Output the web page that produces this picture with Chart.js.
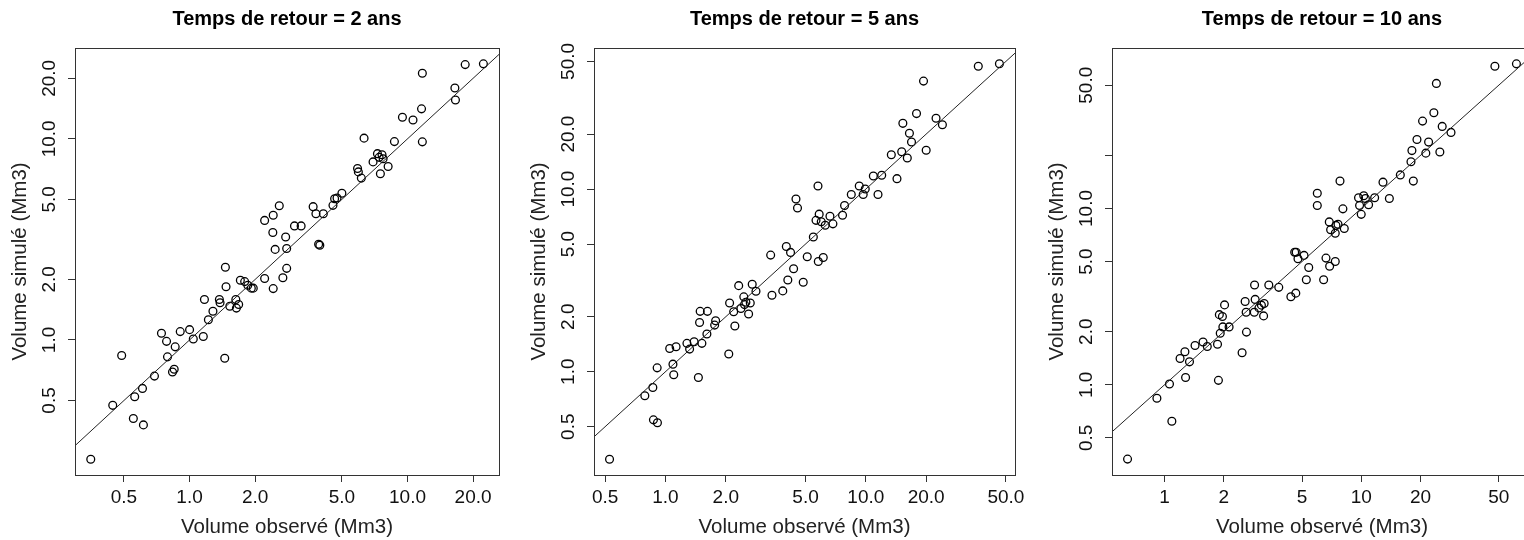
<!DOCTYPE html>
<html>
<head>
<meta charset="utf-8">
<title>Volume simulé vs volume observé</title>
<script src="https://cdn.jsdelivr.net/npm/chart.js@4.4.1/dist/chart.umd.min.js"></script>
<style>
  html, body { margin: 0; padding: 0; background: #fff; overflow: hidden; }
  #wrap { position: relative; width: 1524px; height: 540px; overflow: hidden; }
  #wrap canvas { position: absolute; left: 0; top: 0; }
</style>
</head>
<body>
<div id="wrap">
  <canvas id="c2" width="1540" height="540"></canvas>
  <canvas id="c5" width="1540" height="540"></canvas>
  <canvas id="c10" width="1540" height="540"></canvas>
</div>
<script>
// Données (Mm3)
const obs2 = [0.352, 0.444, 0.488, 0.552, 0.560, 0.608, 0.614, 0.690, 0.743, 0.784, 0.792, 0.835, 0.850, 0.859, 0.906, 1.00, 1.04, 1.156, 1.17, 1.22, 1.28, 1.37, 1.38, 1.45, 1.46, 1.47, 1.53, 1.63, 1.64, 1.68, 1.71, 1.79, 1.85, 1.92, 1.96, 2.21, 2.21, 2.41, 2.42, 2.42, 2.47, 2.58, 2.68, 2.76, 2.79, 2.79, 3.03, 3.25, 3.69, 3.80, 3.91, 3.96, 4.11, 4.55, 4.63, 4.75, 5.00, 5.90, 5.95, 6.14, 6.32, 6.95, 7.28, 7.41, 7.51, 7.64, 7.73, 8.15, 8.71, 9.48, 10.6, 11.7, 11.6, 11.7, 16.5, 16.6, 18.4, 22.3];
const sim2 = [0.255, 0.473, 0.837, 0.407, 0.522, 0.574, 0.378, 0.661, 1.08, 0.984, 0.824, 0.693, 0.715, 0.924, 1.10, 1.125, 1.01, 1.04, 1.59, 1.26, 1.39, 1.59, 1.53, 0.811, 2.30, 1.84, 1.47, 1.59, 1.44, 1.50, 1.98, 1.95, 1.87, 1.81, 1.81, 3.93, 2.02, 3.42, 4.17, 1.80, 2.82, 4.65, 2.04, 3.25, 2.27, 2.85, 3.69, 3.69, 4.60, 4.24, 2.99, 2.96, 4.24, 4.67, 5.04, 5.08, 5.36, 7.12, 6.85, 6.38, 10.08, 7.68, 8.44, 8.09, 6.71, 8.34, 7.96, 7.29, 9.69, 12.8, 12.4, 9.66, 14.1, 21.2, 17.9, 15.6, 23.4, 23.6];

const obs5 = [0.526, 0.789, 0.865, 0.871, 0.912, 0.909, 1.05, 1.09, 1.10, 1.13, 1.28, 1.32, 1.39, 1.46, 1.48, 1.49, 1.52, 1.61, 1.62, 1.76, 1.78, 2.07, 2.09, 2.19, 2.22, 2.32, 2.38, 2.46, 2.48, 2.52, 2.60, 2.65, 2.71, 2.83, 3.35, 3.40, 3.85, 4.01, 4.08, 4.21, 4.36, 4.48, 4.56, 4.87, 5.10, 5.47, 5.64, 5.77, 5.79, 5.85, 5.99, 6.13, 6.27, 6.62, 6.85, 7.65, 7.83, 8.46, 9.27, 9.70, 9.93, 10.9, 11.5, 12.0, 13.4, 14.3, 15.1, 15.3, 16.1, 16.5, 16.9, 17.9, 19.4, 20.0, 22.4, 24.1, 36.4, 46.4];
const sim5 = [0.332, 0.738, 0.819, 0.545, 0.526, 1.05, 1.34, 1.10, 0.962, 1.37, 1.43, 1.33, 1.46, 0.929, 1.86, 2.14, 1.43, 1.61, 2.14, 1.80, 1.90, 1.25, 2.38, 2.13, 1.78, 2.96, 2.22, 2.57, 2.33, 2.40, 2.07, 2.38, 3.01, 2.76, 4.35, 2.62, 2.77, 4.85, 3.18, 4.50, 3.66, 8.82, 7.88, 3.09, 4.26, 5.47, 6.74, 10.4, 4.01, 7.29, 6.62, 4.22, 6.34, 7.10, 6.45, 7.19, 8.12, 9.33, 10.4, 9.33, 10.0, 11.8, 9.33, 11.9, 15.4, 11.4, 16.0, 22.9, 14.8, 20.2, 18.1, 25.9, 39.0, 16.3, 24.4, 22.5, 47.0, 48.5];

const obs10 = [0.649, 0.915, 1.06, 1.09, 1.20, 1.27, 1.28, 1.34, 1.43, 1.57, 1.65, 1.86, 1.88, 1.90, 1.92, 1.97, 1.98, 2.02, 2.13, 2.48, 2.57, 2.60, 2.61, 2.86, 2.87, 2.89, 3.02, 3.11, 3.19, 3.21, 3.39, 3.81, 4.39, 4.65, 4.59, 4.67, 4.77, 5.12, 5.26, 5.41, 5.98, 5.98, 6.44, 6.62, 6.88, 6.91, 6.99, 7.38, 7.38, 7.44, 7.62, 7.80, 8.07, 8.20, 9.69, 9.81, 10.0, 10.3, 10.5, 10.9, 11.7, 12.9, 13.9, 15.8, 17.9, 18.1, 18.4, 19.2, 20.5, 21.3, 22.0, 23.4, 24.1, 25.1, 25.8, 28.6, 47.8, 61.5];
const sim10 = [0.379, 0.839, 1.01, 0.621, 1.41, 1.54, 1.10, 1.35, 1.67, 1.75, 1.65, 1.70, 1.06, 2.50, 1.96, 2.44, 2.13, 2.84, 2.13, 1.52, 2.97, 2.58, 1.99, 2.58, 3.68, 3.05, 2.73, 2.83, 2.46, 2.89, 3.68, 3.57, 3.16, 3.31, 5.65, 5.65, 5.19, 5.42, 3.94, 4.63, 12.2, 10.4, 3.94, 5.23, 8.39, 4.70, 7.57, 7.23, 5.00, 8.02, 8.13, 14.3, 9.95, 7.70, 11.5, 10.4, 9.26, 11.8, 11.4, 10.5, 11.5, 14.1, 11.4, 15.5, 18.4, 21.3, 14.3, 24.6, 31.3, 20.6, 23.8, 34.9, 51.2, 20.9, 29.2, 27.0, 64.1, 66.1];

// étendue des axes (log)
const xRange2 = [0.298, 26.3], yRange2 = [0.213, 28.3];
const xRange5 = [0.440, 55.5], yRange5 = [0.272, 59.2];
const xRange10 = [0.541, 73.8], yRange10 = [0.308, 81.3];

// graduations et étiquettes
const ticks2 = [0.5, 1, 2, 5, 10, 20];
const labels2 = ['0.5', '1.0', '2.0', '5.0', '10.0', '20.0'];
const ticks5 = [0.5, 1, 2, 5, 10, 20, 50];
const labels5 = ['0.5', '1.0', '2.0', '5.0', '10.0', '20.0', '50.0'];
const xTicks10 = [1, 2, 5, 10, 20, 50];
const xLabels10 = ['1', '2', '5', '10', '20', '50'];
const yTicks10 = [0.5, 1, 2, 5, 10, 20, 50];
const yLabels10 = ['0.5', '1.0', '2.0', '5.0', '10.0', '', '50.0'];

// droite y = x
const diagonal = [0.1, 200];

const FONT = '"Liberation Sans", Arial, Helvetica, sans-serif';
const AXIS_COLOR = '#333';

// textes et cadre façon R
const rStyle = {
  id: 'rStyle',
  afterDraw(chart, args, o) {
    const ctx = chart.ctx;
    const a = chart.chartArea;
    const xs = chart.scales.x;
    const ys = chart.scales.y;
    const cx = (a.left + a.right) / 2;
    const cy = (a.top + a.bottom) / 2;

    ctx.save();
    ctx.strokeStyle = AXIS_COLOR;
    ctx.lineWidth = 1;
    ctx.strokeRect(Math.round(a.left) + 0.5, Math.round(a.top) + 0.5,
      Math.round(a.right - a.left), Math.round(a.bottom - a.top));

    ctx.fillStyle = '#111';
    ctx.textAlign = 'center';
    ctx.textBaseline = 'middle';

    // étiquettes des graduations
    ctx.font = '19px ' + FONT;
    o.xTicks.forEach((v, i) => {
      ctx.fillText(o.xLabels[i], xs.getPixelForValue(v), a.bottom + 23);
    });
    o.yTicks.forEach((v, i) => {
      if (!o.yLabels[i]) return;
      ctx.save();
      ctx.translate(a.left - 25, ys.getPixelForValue(v));
      ctx.rotate(-Math.PI / 2);
      ctx.fillText(o.yLabels[i], 0, 0);
      ctx.restore();
    });

    // titres des axes
    ctx.fillStyle = '#222';
    ctx.font = '20.5px ' + FONT;
    ctx.fillText('Volume observé (Mm3)', cx, a.bottom + 52);
    ctx.save();
    ctx.translate(a.left - 55, cy);
    ctx.rotate(-Math.PI / 2);
    ctx.fillText('Volume simulé (Mm3)', 0, 0);
    ctx.restore();

    // titre principal
    ctx.fillStyle = '#000';
    ctx.font = 'bold 20px ' + FONT;
    ctx.fillText(o.title, cx, 19);
    ctx.restore();
  }
};

function logAxis(range, ticks, isX) {
  return {
    type: 'logarithmic',
    min: range[0],
    max: range[1],
    bounds: 'data',
    afterBuildTicks: (s) => { s.ticks = ticks.map((v) => ({ value: v })); },
    afterFit: (s) => {
      if (isX) s.height = 40; else s.width = 40;
    },
    ticks: { display: false },
    grid: { display: true, drawOnChartArea: false, drawTicks: true, tickLength: 7, color: AXIS_COLOR, lineWidth: 1 },
    border: { display: true, color: AXIS_COLOR, width: 1 }
  };
}

function makePanel(id, p) {
  const points = p.obs.map((x, i) => ({ x: x, y: p.sim[i] }));
  const line = diagonal.map((v) => ({ x: v, y: v }));
  new Chart(document.getElementById(id), {
    type: 'scatter',
    data: {
      datasets: [
        {
          data: line,
          showLine: true,
          borderColor: '#222',
          borderWidth: 1,
          pointRadius: 0,
          clip: 0
        },
        {
          data: points,
          pointRadius: 3.9,
          pointBorderWidth: 1.3,
          pointBackgroundColor: 'rgba(0,0,0,0)',
          pointBorderColor: '#000',
          clip: 0
        }
      ]
    },
    options: {
      responsive: false,
      animation: false,
      events: [],
      layout: {
        padding: { left: p.box[0] - 40, right: 1540 - p.box[1], top: p.box[2], bottom: 540 - p.box[3] - 40 }
      },
      scales: {
        x: logAxis(p.xRange, p.xTicks, true),
        y: logAxis(p.yRange, p.yTicks, false)
      },
      plugins: {
        legend: { display: false },
        tooltip: { enabled: false },
        rStyle: {
          title: p.title,
          xTicks: p.xTicks, xLabels: p.xLabels,
          yTicks: p.yTicks, yLabels: p.yLabels
        }
      }
    },
    plugins: [rStyle]
  });
}

makePanel('c2', {
  title: 'Temps de retour = 2 ans',
  obs: obs2, sim: sim2,
  xRange: xRange2, yRange: yRange2,
  xTicks: ticks2, xLabels: labels2, yTicks: ticks2, yLabels: labels2,
  box: [75, 499, 48, 475]
});

makePanel('c5', {
  title: 'Temps de retour = 5 ans',
  obs: obs5, sim: sim5,
  xRange: xRange5, yRange: yRange5,
  xTicks: ticks5, xLabels: labels5, yTicks: ticks5, yLabels: labels5,
  box: [594, 1015, 48, 475]
});

makePanel('c10', {
  title: 'Temps de retour = 10 ans',
  obs: obs10, sim: sim10,
  xRange: xRange10, yRange: yRange10,
  xTicks: xTicks10, xLabels: xLabels10, yTicks: yTicks10, yLabels: yLabels10,
  box: [1112, 1532, 48, 475]
});
</script>
</body>
</html>
